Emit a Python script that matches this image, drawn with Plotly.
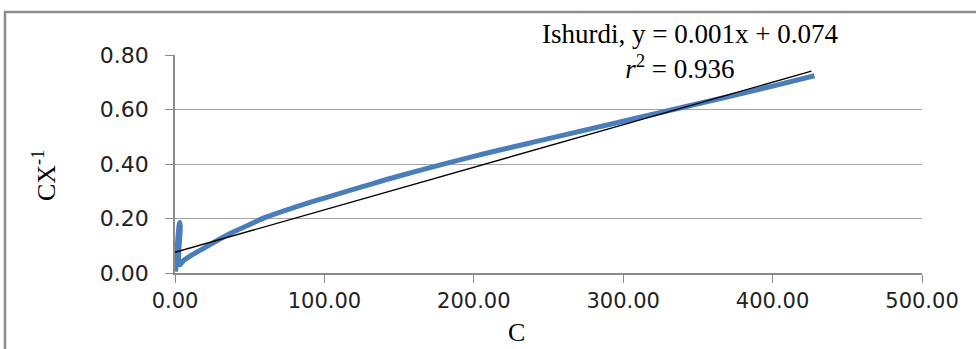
import plotly.graph_objects as go
import numpy as np

# ---- data ----
c_values = [0.4, 3.1, 3.5, 3.0, 6, 12, 20, 30, 40, 50, 60, 80, 100, 125, 150, 200, 250, 300, 350, 400, 428]
cx_values = [0.005, 0.185, 0.175, 0.03, 0.047, 0.068, 0.093, 0.125, 0.153, 0.178, 0.203, 0.241, 0.275, 0.316, 0.356, 0.428, 0.493, 0.557, 0.621, 0.686, 0.724]
trend_slope = 0.00156
trend_intercept = 0.076
trend_range = [0, 426]
x_ticks = [0, 100, 200, 300, 400, 500]
y_ticks = [0, 0.2, 0.4, 0.6, 0.8]

W, H = 976, 349
ML, MR, MT, MB = 175, 54, 55, 76
PW, PH = W - ML - MR, H - MT - MB

def px(x):
    return (x - ML) / PW

def py(y):
    return 1 - (y - MT) / PH

trend_x = np.array(trend_range, dtype=float)
trend_y = trend_slope * trend_x + trend_intercept

fig = go.Figure()
fig.add_trace(go.Scatter(x=c_values, y=cx_values, mode="lines",
                         line=dict(color="#4A7EBB", width=5, shape="spline", smoothing=1.0),
                         hoverinfo="skip", showlegend=False))
fig.add_trace(go.Scatter(x=trend_x, y=trend_y, mode="lines",
                         line=dict(color="#000000", width=1.3),
                         hoverinfo="skip", showlegend=False))

fig.update_layout(
    width=W, height=H,
    margin=dict(l=ML, r=MR, t=MT, b=MB),
    paper_bgcolor="white", plot_bgcolor="white",
    font=dict(family="DejaVu Sans", color="#222222"),
    showlegend=False,
)
fig.update_xaxes(range=[0, 500], tickvals=x_ticks, tickformat=".2f",
                 showgrid=False, zeroline=False, showline=True, linecolor="#8a8a8a", linewidth=1.5,
                 ticks="outside", ticklen=8, tickcolor="#8a8a8a",
                 tickfont=dict(size=21, family="DejaVu Sans", color="#222222"))
fig.update_yaxes(range=[0, 0.8], tickvals=y_ticks, tickformat=".2f",
                 showgrid=True, gridcolor="#a6a6a6", gridwidth=1.3, zeroline=False,
                 showline=True, linecolor="#8a8a8a", linewidth=1.5,
                 ticks="outside", ticklen=8, tickcolor="#8a8a8a", ticklabelstandoff=12,
                 tickfont=dict(size=22, family="DejaVu Sans", color="#222222"))

serif = "Liberation Serif"
def note(xp, yp, text, size, angle=0, yanchor="middle"):
    fig.add_annotation(x=px(xp), y=py(yp), xref="paper", yref="paper", showarrow=False,
                       xanchor="center", yanchor=yanchor, textangle=angle, align="center",
                       text=text, font=dict(family=serif, size=size, color="#000"))

note(690, 52, "Ishurdi, y = 0.001x + 0.074<br><i>r</i><sup>2</sup> = 0.936&nbsp;&nbsp;&nbsp;", 27)
note(516, 349, "C", 26, yanchor="bottom")
note(44, 176, "CX<sup>-1</sup>", 26, -90)

fig.add_shape(type="rect", xref="paper", yref="paper",
              x0=px(5), x1=px(990), y0=py(400), y1=py(12),
              line=dict(color="#8c8c8c", width=2.5), fillcolor="rgba(0,0,0,0)", layer="below")

fig.write_html("out.html")
